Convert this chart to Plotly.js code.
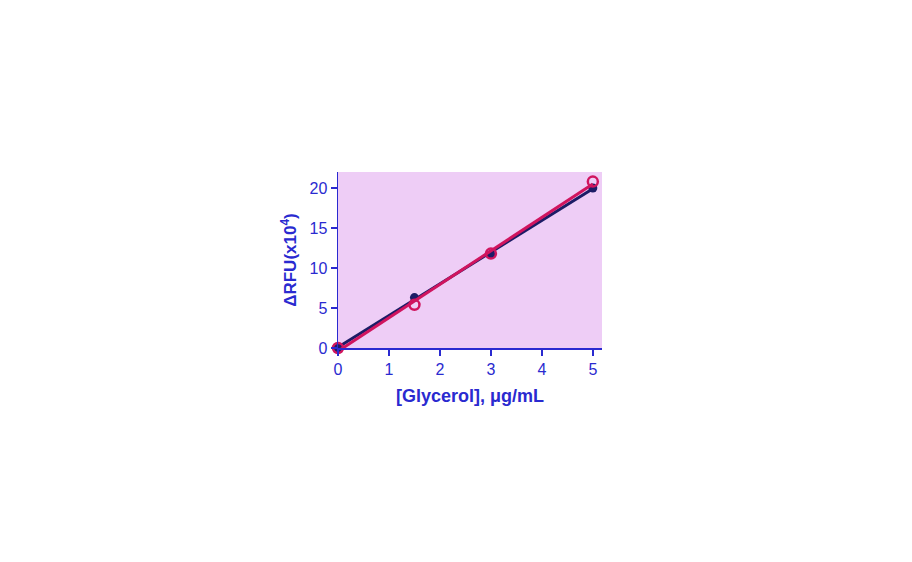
<!DOCTYPE html>
<html><head><meta charset="utf-8">
<script src="https://cdn.plot.ly/plotly-3.0.1.min.js"></script>
<style>html,body{margin:0;padding:0;background:#fff;}</style>
</head><body>
<div id="chart" style="width:912px;height:562px;"></div>
<script>
const conc = [0, 1.5, 3, 5];
const navyValues = [0, 6.3, 11.7, 20.0];
const pinkValues = [0, 5.4, 11.8, 20.8];
const fitX = [0, 5];
const navyFit = [0.1, 19.9];
const pinkFit = [-0.4, 20.5];
const xTicks = [0, 1, 2, 3, 4, 5];
const yTicks = [0, 5, 10, 15, 20];

const blue = '#2a2ad0';
const navy = '#1c1c66';
const pink = '#d0145e';

const traces = [
  {x: fitX, y: navyFit, mode: 'lines', line: {color: navy, width: 3}, showlegend: false, hoverinfo: 'skip'},
  {x: conc, y: navyValues, mode: 'markers', cliponaxis: false, marker: {color: navy, size: 9}, showlegend: false},
  {x: fitX, y: pinkFit, mode: 'lines', line: {color: pink, width: 3}, showlegend: false, hoverinfo: 'skip'},
  {x: conc, y: pinkValues, mode: 'markers', cliponaxis: false, marker: {color: 'rgba(0,0,0,0)', size: 10, line: {color: pink, width: 2.5}}, showlegend: false}
];

const layout = {
  width: 912, height: 562,
  margin: {l: 338, r: 310, t: 172, b: 214, pad: 0},
  paper_bgcolor: '#ffffff',
  plot_bgcolor: '#eecdf6',
  font: {family: 'Liberation Sans, Arial, sans-serif', color: blue, size: 16},
  xaxis: {
    range: [0, 5.18], tickvals: xTicks, ticktext: xTicks.map(String),
    showgrid: false, zeroline: false, showline: true, linecolor: blue, linewidth: 1.5,
    ticks: 'outside', ticklen: 6, tickcolor: blue, tickwidth: 1.5,
    tickfont: {size: 16, color: blue},
    title: {text: '<b>[Glycerol], μg/mL</b>', font: {size: 18, color: blue}, standoff: 12}
  },
  yaxis: {
    range: [0, 22], tickvals: yTicks, ticktext: yTicks.map(String),
    showgrid: false, zeroline: false, showline: true, linecolor: blue, linewidth: 1.5,
    ticks: 'outside', ticklen: 6, tickcolor: blue, tickwidth: 1.5,
    tickfont: {size: 16, color: blue},
    title: {text: '<b>ΔRFU(x10<sup>4</sup>)</b>', font: {size: 17, color: blue}, standoff: 8}
  }
};
Plotly.newPlot('chart', traces, layout, {displayModeBar: false, staticPlot: true});
</script>
</body></html>
